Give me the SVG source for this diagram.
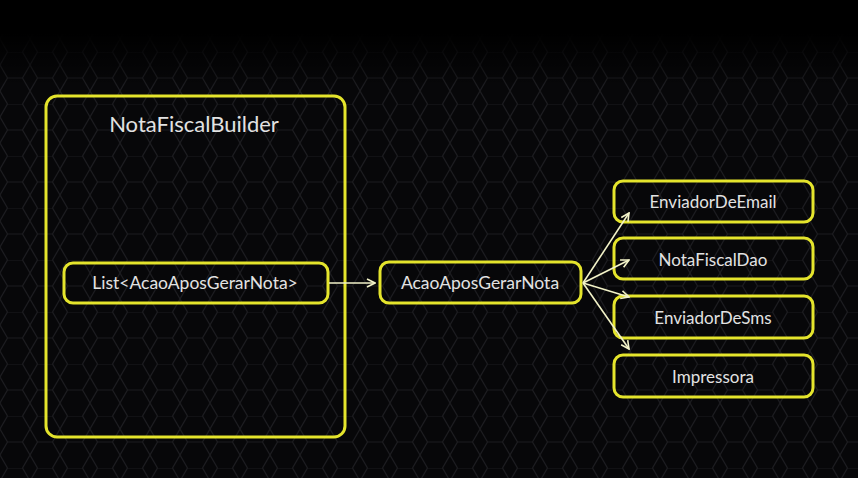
<svg xmlns="http://www.w3.org/2000/svg" width="858" height="478" viewBox="0 0 858 478">
<defs>
<pattern id="hex" width="30" height="52" patternUnits="userSpaceOnUse">
<path d="M0,13 L7.5,0 L22.5,0 L30,13 L22.5,26 L7.5,26 Z M22.5,26 L30,39 L22.5,52 M7.5,26 L0,39 L7.5,52" fill="none" stroke="#1c1c20" stroke-width="1.2"/>
</pattern>
<linearGradient id="fade" x1="0" y1="0" x2="0" y2="1">
<stop offset="0" stop-color="#000" stop-opacity="1"/>
<stop offset="0.07" stop-color="#000" stop-opacity="1"/>
<stop offset="0.18" stop-color="#000" stop-opacity="0"/>
<stop offset="1" stop-color="#000" stop-opacity="0"/>
</linearGradient>
<marker id="arr" viewBox="0 0 10 10" refX="9" refY="5" markerWidth="10" markerHeight="10" markerUnits="userSpaceOnUse" orient="auto">
<path d="M1,1 L9,5 L1,9" fill="none" stroke="#f2f2c8" stroke-width="1.6"/>
</marker>
<style>
.box{fill:none;stroke:#e4e42c;stroke-width:3}
.lbl{font-family:Lato,"Open Sans","Liberation Sans",sans-serif;fill:#e2e2e2;text-anchor:middle}
.edge{fill:none;stroke:#f2f2c8;stroke-width:1.6;marker-end:url(#arr)}
</style>
</defs>
<rect width="858" height="478" fill="#070709"/>
<rect width="858" height="478" fill="url(#hex)"/>
<rect width="858" height="478" fill="url(#fade)"/>
<g id="builder">
<rect class="box" x="46" y="96" width="299" height="341" rx="11"/>
<text class="lbl" x="194" y="132" font-size="22">NotaFiscalBuilder</text>
</g>
<g id="list">
<rect class="box" x="64" y="263" width="264" height="40" rx="9"/>
<text class="lbl" x="195" y="289" font-size="17.5">List&lt;AcaoAposGerarNota&gt;</text>
</g>
<g id="acao">
<rect class="box" x="380" y="262" width="201" height="41" rx="9"/>
<text class="lbl" x="480" y="289" font-size="17.5">AcaoAposGerarNota</text>
</g>
<g id="email">
<rect class="box" x="614" y="181" width="199" height="41" rx="9"/>
<text class="lbl" x="713" y="208" font-size="17">EnviadorDeEmail</text>
</g>
<g id="dao">
<rect class="box" x="614" y="238" width="199" height="41" rx="9"/>
<text class="lbl" x="713" y="266" font-size="17">NotaFiscalDao</text>
</g>
<g id="sms">
<rect class="box" x="614" y="296" width="199" height="42" rx="9"/>
<text class="lbl" x="713" y="324" font-size="17">EnviadorDeSms</text>
</g>
<g id="impressora">
<rect class="box" x="614" y="355" width="199" height="42" rx="9"/>
<text class="lbl" x="713" y="383" font-size="17">Impressora</text>
</g>
<g id="connectors">
<path class="edge" d="M329,283 L375,283"/>
<path class="edge" d="M583,283 L629,213"/>
<path class="edge" d="M583,283 L629,260"/>
<path class="edge" d="M583,283 L629,297"/>
<path class="edge" d="M583,283 L629,349"/>
</g>
</svg>
